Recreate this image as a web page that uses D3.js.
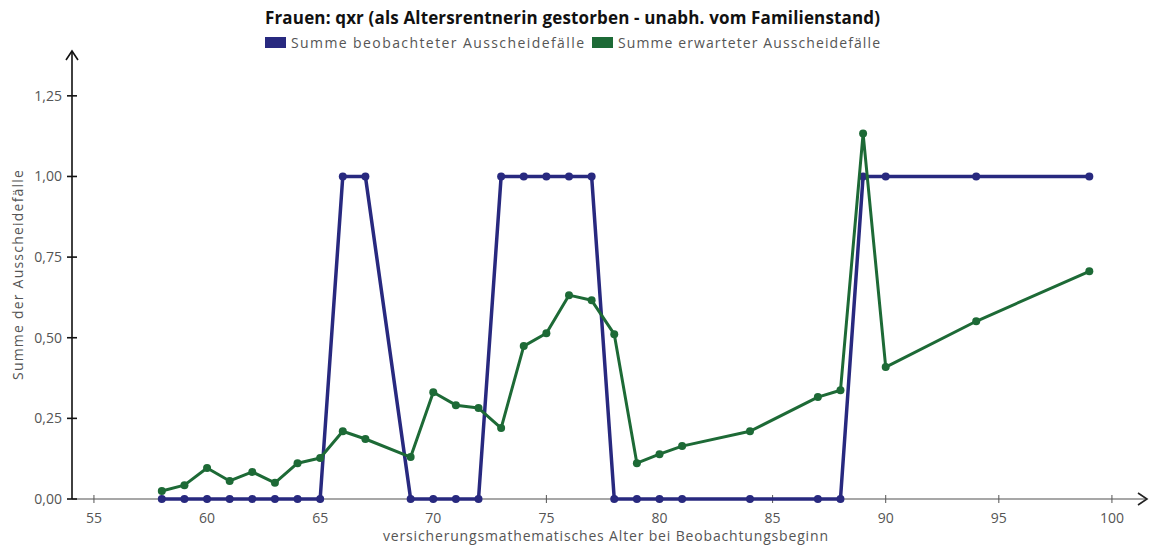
<!DOCTYPE html>
<html>
<head>
<meta charset="utf-8">
<script src="https://cdn.jsdelivr.net/npm/d3@7"></script>
<style>
  body { margin: 0; background: #fff; }
  svg { font-family: "Open Sans", sans-serif; }
</style>
</head>
<body>
<svg width="1152" height="548"></svg>
<script>
// ages (x) and the two series
const ages = [58,59,60,61,62,63,64,65,66,67,69,70,71,72,73,74,75,76,77,78,79,80,81,84,87,88,89,90,94,99];
const observed = [0,0,0,0,0,0,0,0,1,1,0,0,0,0,1,1,1,1,1,0,0,0,0,0,0,0,1,1,1,1];
const expected = [0.025,0.043,0.096,0.056,0.084,0.05,0.111,0.127,0.21,0.186,0.13,0.331,0.291,0.282,0.22,0.474,0.514,0.632,0.616,0.511,0.111,0.139,0.164,0.21,0.316,0.337,1.133,0.409,0.551,0.706];
const xTicks = [55,60,65,70,75,80,85,90,95,100];
const yTicks = [0,0.25,0.5,0.75,1,1.25];
const seriesNames = ["Summe beobachteter Ausscheidefälle", "Summe erwarteter Ausscheidefälle"];
const colors = ["#28297f", "#1d6a36"];

const svg = d3.select("svg");

// scales: y-axis line at x=72, x-axis line at y=499
const x = d3.scaleLinear().domain([54.03, 101.55]).range([72, 1147]);
const y = d3.scaleLinear().domain([0, 1.389]).range([499, 51]);

const fmt = d => d3.format(".2f")(d).replace(".", ",");

// x axis (grey line + arrow)
svg.append("line")
  .attr("x1", x.range()[0]).attr("x2", x.range()[1] - 1)
  .attr("y1", y(0)).attr("y2", y(0))
  .attr("stroke", "#8a8a8a").attr("stroke-width", 1.5);
svg.append("path")
  .attr("d", `M${x.range()[1]-9},${y(0)-6} L${x.range()[1]},${y(0)} L${x.range()[1]-9},${y(0)+6}`)
  .attr("fill", "none").attr("stroke", "#222").attr("stroke-width", 1.6);

svg.append("g").selectAll("line").data(xTicks).join("line")
  .attr("x1", d => x(d)).attr("x2", d => x(d))
  .attr("y1", y(0) - 4).attr("y2", y(0) + 4)
  .attr("stroke", "#555").attr("stroke-width", 1);
svg.append("g").selectAll("text").data(xTicks).join("text")
  .attr("x", d => x(d)).attr("y", y(0) + 24)
  .attr("text-anchor", "middle")
  .attr("font-size", 14).attr("fill", "#555")
  .text(d => d);

// y axis (black line + arrow)
svg.append("line")
  .attr("x1", x.range()[0]).attr("x2", x.range()[0])
  .attr("y1", y(0)).attr("y2", y.range()[1] + 1)
  .attr("stroke", "#111").attr("stroke-width", 1.6);
svg.append("path")
  .attr("d", `M${x.range()[0]-6},${y.range()[1]+9} L${x.range()[0]},${y.range()[1]} L${x.range()[0]+6},${y.range()[1]+9}`)
  .attr("fill", "none").attr("stroke", "#111").attr("stroke-width", 1.6);

svg.append("g").selectAll("line").data(yTicks).join("line")
  .attr("x1", x.range()[0] - 5).attr("x2", x.range()[0] + 5)
  .attr("y1", d => y(d)).attr("y2", d => y(d))
  .attr("stroke", "#111").attr("stroke-width", 1.6);
svg.append("g").selectAll("text").data(yTicks).join("text")
  .attr("x", 62).attr("y", d => y(d) + 5)
  .attr("text-anchor", "end")
  .attr("font-size", 14).attr("fill", "#555")
  .text(fmt);

// axis titles
svg.append("text")
  .attr("x", 383).attr("y", 541)
  .attr("font-size", 14).attr("fill", "#555")
  .attr("textLength", 445).attr("lengthAdjust", "spacing")
  .text("versicherungsmathematisches Alter bei Beobachtungsbeginn");
svg.append("text")
  .attr("transform", "translate(23,380) rotate(-90)")
  .attr("font-size", 14).attr("fill", "#555")
  .attr("textLength", 210).attr("lengthAdjust", "spacing")
  .text("Summe der Ausscheidefälle");

// title
svg.append("text")
  .attr("x", 265).attr("y", 24)
  .attr("font-size", 17).attr("font-weight", "bold").attr("fill", "#111")
  .attr("textLength", 615).attr("lengthAdjust", "spacing")
  .text("Frauen: qxr (als Altersrentnerin gestorben - unabh. vom Familienstand)");

// legend
const legend = svg.append("g").attr("transform", "translate(265,36)");
const legendX = [0, 327];
const legendW = [293, 262];
seriesNames.forEach((name, i) => {
  legend.append("rect")
    .attr("x", legendX[i]).attr("y", 1)
    .attr("width", 21).attr("height", 11)
    .attr("fill", colors[i]);
  legend.append("text")
    .attr("x", legendX[i] + 26).attr("y", 12)
    .attr("font-size", 14).attr("fill", "#555")
    .attr("textLength", legendW[i]).attr("lengthAdjust", "spacing")
    .text(name);
});

// series
const line = d3.line().x(d => x(d[0])).y(d => y(d[1]));
[observed, expected].forEach((vals, i) => {
  const pts = ages.map((a, j) => [a, vals[j]]);
  svg.append("path")
    .datum(pts)
    .attr("d", line)
    .attr("fill", "none")
    .attr("stroke", colors[i])
    .attr("stroke-width", i === 0 ? 3.5 : 3)
    .attr("stroke-linejoin", "round");
  svg.append("g").selectAll("circle").data(pts).join("circle")
    .attr("cx", d => x(d[0])).attr("cy", d => y(d[1]))
    .attr("r", 4)
    .attr("fill", colors[i]);
});
</script>
</body>
</html>
